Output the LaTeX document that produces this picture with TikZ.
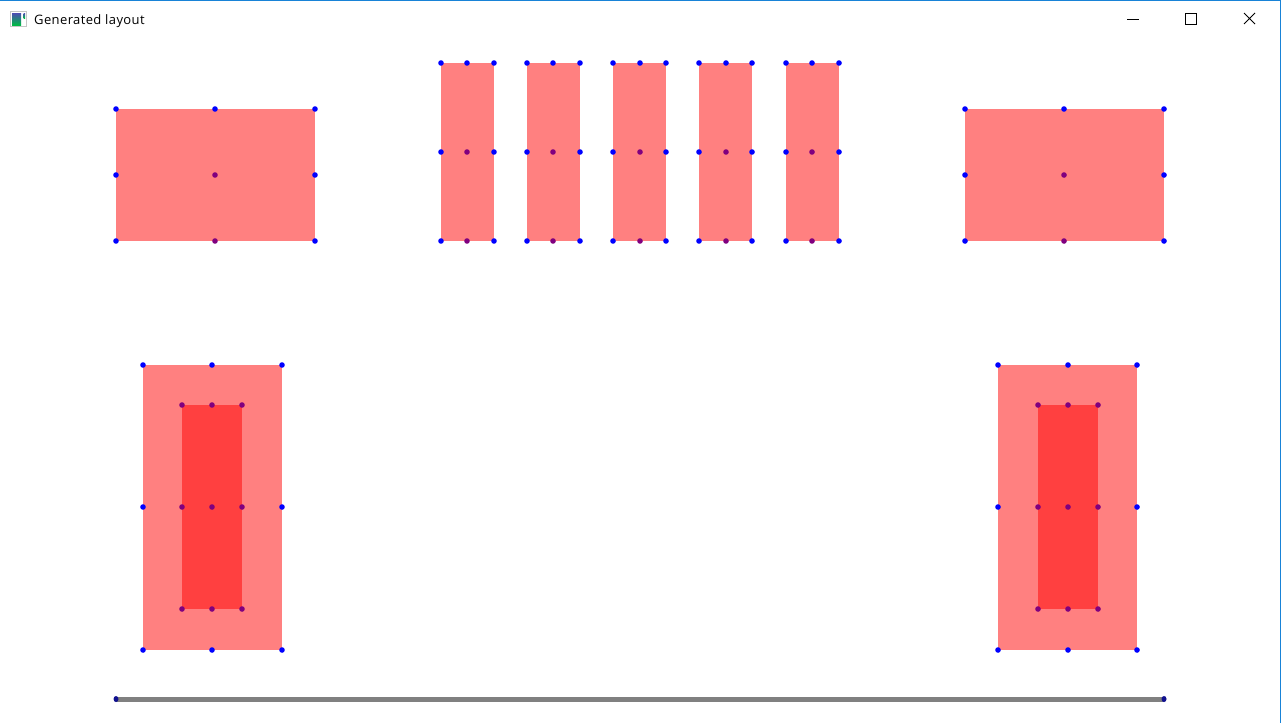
\documentclass[tikz,border=0pt]{standalone}
\usepackage{fontspec}
\setmainfont{Open Sans}
\newfontfamily\titlefont[LetterSpace=3]{Open Sans}
\definecolor{rectfill}{HTML}{FF8080}
\definecolor{innerfill}{HTML}{FF4040}
\definecolor{dotblue}{HTML}{0000FF}
\definecolor{dotpurple}{HTML}{80007F}
\definecolor{bargray}{HTML}{808080}
\definecolor{bardot}{HTML}{10108F}
\definecolor{winborder}{HTML}{1883D7}
\tikzset{
  bdot/.style={fill=dotblue},
  pdot/.style={fill=dotpurple},
  outerbox/.style={fill=rectfill},
  innerbox/.style={fill=innerfill},
  barline/.style={draw=bargray, line width=5pt},
  chrome/.style={draw=black, line width=1pt},
}
\begin{document}
\begin{tikzpicture}[x=1pt,y=-1pt]
\useasboundingbox (0,0) rectangle (1281,723);
\fill[white] (0,0) rectangle (1281,723);
% window frame
\draw[winborder, line width=1pt] (0,0.5) -- (1280.5,0.5) -- (1280.5,723);
% icon
\draw[gray!45, line width=0.8pt] (10.5,11.5) rectangle (26.5,26.5);
\shade[top color=blue!40!gray, bottom color=green!45!teal] (12,13) rectangle (21,25);
\shade[top color=blue!40!gray, bottom color=green!45!teal] (23.5,13) rectangle (25,18);
\node[anchor=base west, inner sep=0pt, font=\titlefont\fontsize{13}{15}\selectfont] (title) at (34,24.5) {Generated layout};
% window buttons
\draw[chrome] (1127,19.5) -- (1139,19.5);
\draw[chrome] (1185.5,13.5) rectangle (1196.5,24.5);
\draw[chrome] (1244,13) -- (1255,24) (1244,24) -- (1255,13);
% top wide rects
\foreach \a/\b/\c in {116/215/315, 965/1064/1164} {
  \fill[outerbox] (\a,109) rectangle (\c,241);
  \foreach \x/\y in {\a/109,\b/109,\c/109,\a/175,\c/175,\a/241,\c/241}
    \fill[bdot] (\x,\y) circle (2.8);
  \foreach \x/\y in {\b/175,\b/241}
    \fill[pdot] (\x,\y) circle (2.8);
}
% top tall rects
\foreach \a/\b/\c in {441/467/494, 527/553/580, 613/640/666, 699/726/752, 786/812/839} {
  \fill[outerbox] (\a,63) rectangle (\c,241);
  \foreach \x/\y in {\a/63,\b/63,\c/63,\a/152,\c/152,\a/241,\c/241}
    \fill[bdot] (\x,\y) circle (2.8);
  \foreach \x/\y in {\b/152,\b/241}
    \fill[pdot] (\x,\y) circle (2.8);
}
% bottom nested rects
\foreach \a/\b/\c/\d/\e in {143/182/212/242/282, 998/1038/1068/1098/1137} {
  \fill[outerbox] (\a,365) rectangle (\e,650);
  \fill[innerbox] (\b,405) rectangle (\d,609);
  \foreach \x/\y in {\a/365,\c/365,\e/365,\a/507,\e/507,\a/650,\c/650,\e/650}
    \fill[bdot] (\x,\y) circle (2.8);
  \foreach \x/\y in {\b/405,\c/405,\d/405,\b/507,\c/507,\d/507,\b/609,\c/609,\d/609}
    \fill[pdot] (\x,\y) circle (2.8);
}
% bottom bar
\coordinate (barL) at (116,699);
\coordinate (barR) at (1164,699);
\draw[barline] (barL) -- (barR);
\fill[bardot] (barL) ellipse (2.5 and 3);
\fill[bardot] (barR) ellipse (2.5 and 3);
\end{tikzpicture}
\end{document}
